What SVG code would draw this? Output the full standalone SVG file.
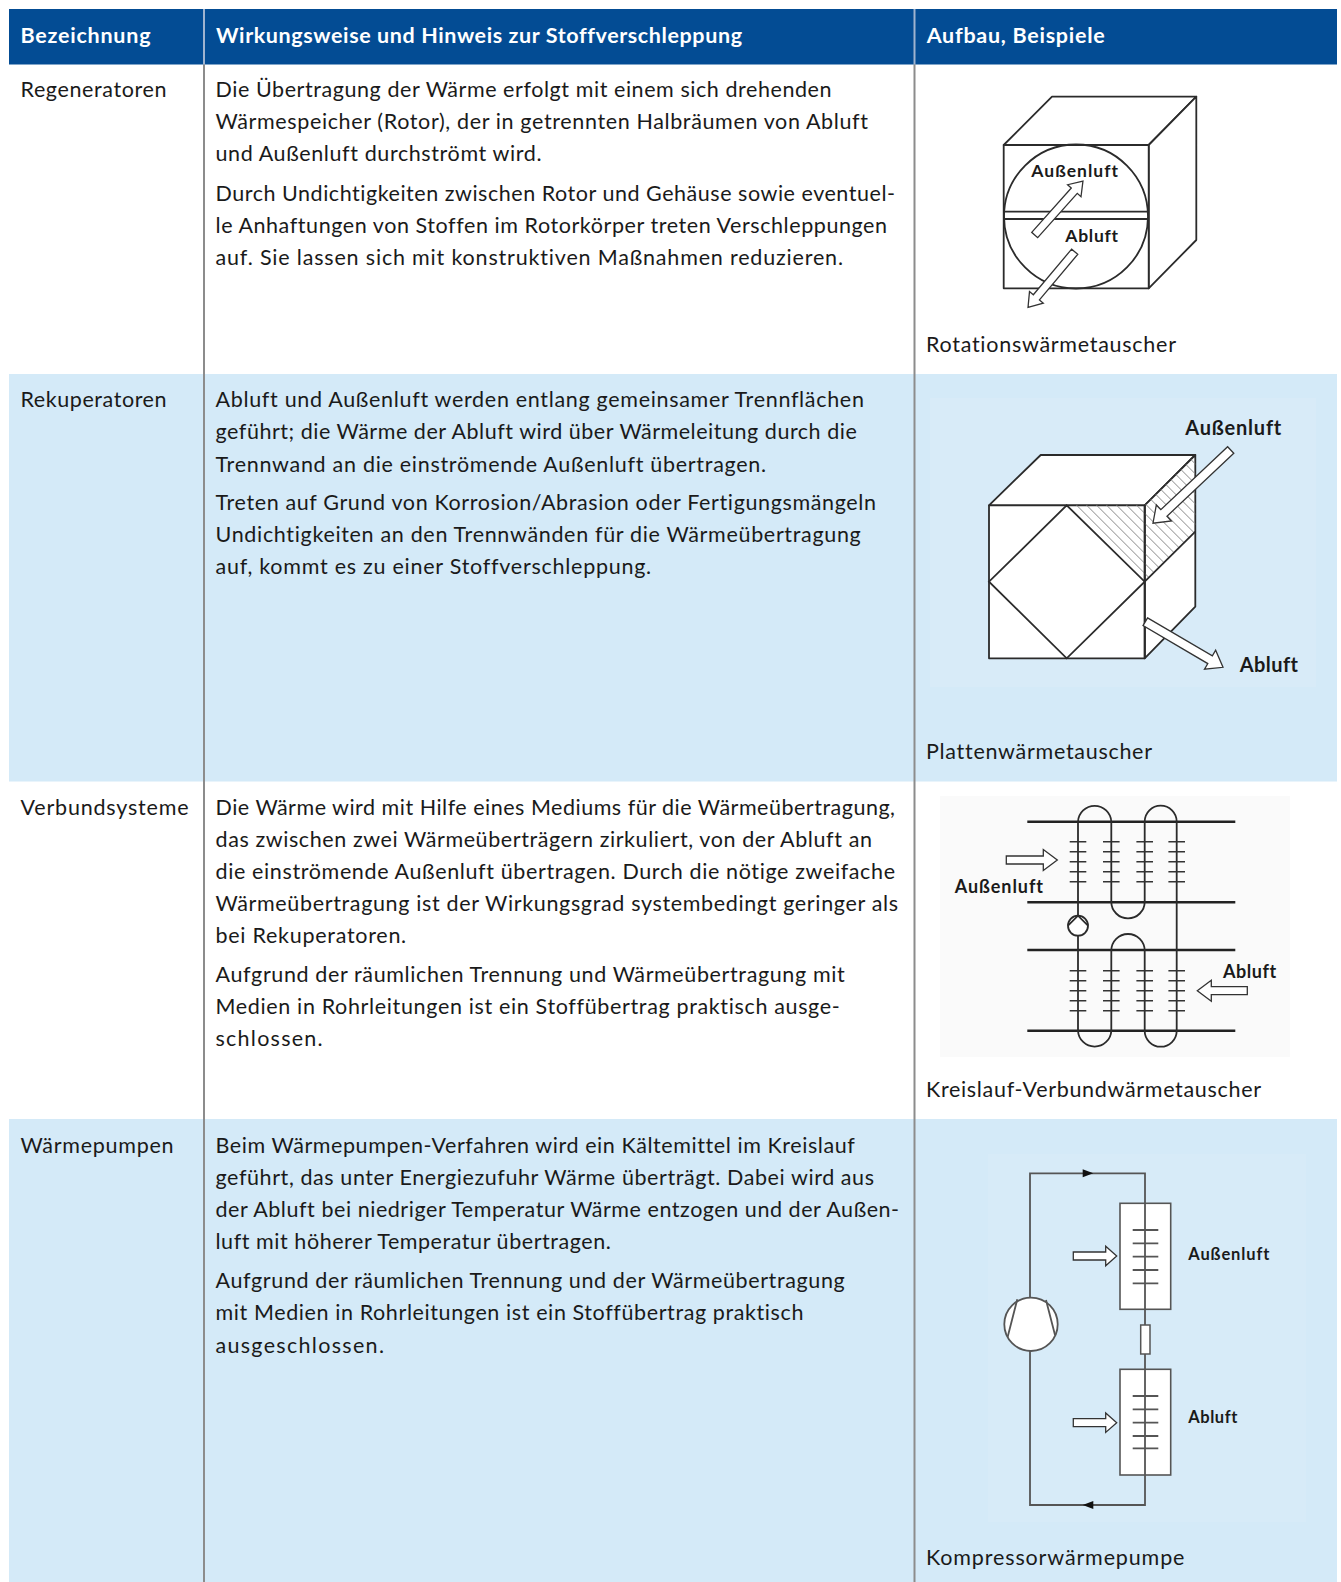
<svg xmlns="http://www.w3.org/2000/svg" width="1341" height="1582" viewBox="0 0 1341 1582">
<defs>
<style>
text{font-variant-ligatures:none;font-feature-settings:"liga" 0,"clig" 0}
.hd{font-family:Lato,"Noto Sans",sans-serif;font-weight:700;font-size:21.5px;fill:#fff}
.tx{font-family:Lato,"Noto Sans",sans-serif;font-size:21.5px;fill:#1a1a1a}
.lb{font-family:Lato,"Noto Sans",sans-serif;font-weight:700;fill:#1a1a1a}
.ln{stroke:#2b2b2b;stroke-width:1.8;fill:none}
.fc{fill:#fff;stroke:#2b2b2b;stroke-width:1.8;stroke-linejoin:round}
.ha{fill:#fff;stroke:#333;stroke-width:1.3}
.fin{stroke:#333;stroke-width:1.5;fill:none}
.thick{stroke:#222;stroke-width:2.6}
.c4{stroke:#555;stroke-width:1.8;fill:none}
.div{stroke:#8c8c8c;stroke-width:2}
.hdiv{stroke:#9fb3cf;stroke-width:2}
</style>
<clipPath id="hatchclip"><polygon points="1066.7,505.3 1144.7,505.3 1195.3,455 1195.3,531.7 1144.7,581.7"/></clipPath>
</defs>

<g id="table">
<rect x="0" y="0" width="1341" height="1582" fill="#fff"/>
<rect x="9" y="9" width="1328" height="55.5" fill="#034c94"/>
<rect x="9" y="374" width="1328" height="407.5" fill="#d4eaf8"/>
<rect x="9" y="1119" width="1328" height="463" fill="#d4eaf8"/>
<line class="hdiv" x1="204" y1="9" x2="204" y2="64.5"/>
<line class="hdiv" x1="914.5" y1="9" x2="914.5" y2="64.5"/>
<line class="div" x1="204" y1="64.5" x2="204" y2="1582"/>
<line class="div" x1="914.5" y1="64.5" x2="914.5" y2="1582"/>
</g>

<g id="header">
<text class="hd" x="20.5" y="43" textLength="130">Bezeichnung</text>
<text class="hd" x="216" y="43" textLength="526">Wirkungsweise und Hinweis zur Stoffverschleppung</text>
<text class="hd" x="926.7" y="43" textLength="178">Aufbau, Beispiele</text>
</g>

<g id="row-regeneratoren">
<text class="tx" x="20.5" y="97" textLength="146">Regeneratoren</text>
<text class="tx" x="215.5" y="97" textLength="616">Die Übertragung der Wärme erfolgt mit einem sich drehenden</text>
<text class="tx" x="215.5" y="129" textLength="652.5">Wärmespeicher (Rotor), der in getrennten Halbräumen von Abluft</text>
<text class="tx" x="215.5" y="161" textLength="326">und Außenluft durchströmt wird.</text>
<text class="tx" x="215.5" y="201" textLength="679.5">Durch Undichtigkeiten zwischen Rotor und Gehäuse sowie eventuel-</text>
<text class="tx" x="215.5" y="233" textLength="671.5">le Anhaftungen von Stoffen im Rotorkörper treten Verschleppungen</text>
<text class="tx" x="215.5" y="265" textLength="627.5">auf. Sie lassen sich mit konstruktiven Maßnahmen reduzieren.</text>
<text class="tx" x="926" y="351.5" textLength="250">Rotationswärmetauscher</text>
</g>

<g id="illu-rotation">
<polygon class="fc" points="1003.7,145 1052,96.7 1196.3,96.7 1148.7,145"/>
<polygon class="fc" points="1148.7,145 1196.3,96.7 1196.3,240 1148.7,288.3"/>
<rect class="fc" x="1003.7" y="145" width="145" height="143.3"/>
<circle class="ln" cx="1076" cy="216.5" r="72"/>
<line class="ln" x1="1003.7" y1="211.7" x2="1148.7" y2="211.7"/>
<line class="ln" x1="1003.7" y1="219" x2="1148.7" y2="219"/>
<polygon class="ha" transform="translate(1034.7,235) rotate(-48.2)" points="0,-4 59.4,-4 59.4,-9 72.4,0 59.4,9 59.4,4 0,4"/>
<polygon class="ha" transform="translate(1074.7,251.7) rotate(130)" points="0,-4 59.6,-4 59.6,-9 72.6,0 59.6,9 59.6,4 0,4"/>
<text class="lb" x="1031.3" y="176.7" font-size="17.5" textLength="86.7">Außenluft</text>
<text class="lb" x="1065.3" y="242.3" font-size="17.5" textLength="52.7">Abluft</text>
</g>

<g id="row-rekuperatoren">
<text class="tx" x="20.5" y="407" textLength="146">Rekuperatoren</text>
<text class="tx" x="215.5" y="407" textLength="648.4">Abluft und Außenluft werden entlang gemeinsamer Trennflächen</text>
<text class="tx" x="215.5" y="439" textLength="641.3">geführt; die Wärme der Abluft wird über Wärmeleitung durch die</text>
<text class="tx" x="215.5" y="471.5" textLength="550.6">Trennwand an die einströmende Außenluft übertragen.</text>
<text class="tx" x="215.5" y="510" textLength="660.5">Treten auf Grund von Korrosion/Abrasion oder Fertigungsmängeln</text>
<text class="tx" x="215.5" y="542" textLength="645.3">Undichtigkeiten an den Trennwänden für die Wärmeübertragung</text>
<text class="tx" x="215.5" y="574" textLength="435.7">auf, kommt es zu einer Stoffverschleppung.</text>
<text class="tx" x="926" y="759" textLength="226">Plattenwärmetauscher</text>
</g>

<g id="illu-platten">
<rect x="930" y="398" width="386" height="289" fill="#d8ebf8"/>
<polygon class="fc" points="989,505.3 1040.7,455 1195.3,455 1144.7,505.3"/>
<polygon class="fc" points="1144.7,505.3 1195.3,455 1195.3,606.7 1144.7,658.3"/>
<rect class="fc" x="989" y="505.3" width="155.7" height="153"/>
<path clip-path="url(#hatchclip)" stroke="#8a8a8a" stroke-width="1" fill="none" d="M1011.4,440 L1181.4,610 M1021.4,440 L1191.4,610 M1031.4,440 L1201.4,610 M1041.4,440 L1211.4,610 M1051.4,440 L1221.4,610 M1061.4,440 L1231.4,610 M1071.4,440 L1241.4,610 M1081.4,440 L1251.4,610 M1091.4,440 L1261.4,610 M1101.4,440 L1271.4,610 M1111.4,440 L1281.4,610 M1121.4,440 L1291.4,610 M1131.4,440 L1301.4,610 M1141.4,440 L1311.4,610 M1151.4,440 L1321.4,610 M1161.4,440 L1331.4,610 M1171.4,440 L1341.4,610 M1181.4,440 L1351.4,610"/>
<polygon class="ln" points="1066.7,505.3 1144.7,581.7 1066.7,658.3 989,581.7"/>
<line class="ln" x1="1144.7" y1="581.7" x2="1195.3" y2="531.7"/>
<line class="ln" x1="1144.7" y1="505.3" x2="1144.7" y2="658.3"/>
<polygon class="ha" transform="translate(1230.7,450) rotate(136.7)" points="0,-4.5 91.8,-4.5 91.8,-11 106.8,0 91.8,11 91.8,4.5 0,4.5"/>
<polygon class="ha" transform="translate(1145.3,621.7) rotate(30.4)" points="0,-4.5 75.1,-4.5 75.1,-11 90.1,0 75.1,11 75.1,4.5 0,4.5"/>
<text class="lb" x="1185.3" y="435" font-size="20" textLength="96">Außenluft</text>
<text class="lb" x="1239.7" y="671.7" font-size="20" textLength="58.3">Abluft</text>
</g>

<g id="row-verbundsysteme">
<text class="tx" x="20.5" y="815" textLength="168">Verbundsysteme</text>
<text class="tx" x="215.5" y="815" textLength="679.5">Die Wärme wird mit Hilfe eines Mediums für die Wärmeübertragung,</text>
<text class="tx" x="215.5" y="847" textLength="656.4">das zwischen zwei Wärmeüberträgern zirkuliert, von der Abluft an</text>
<text class="tx" x="215.5" y="879" textLength="679.5">die einströmende Außenluft übertragen. Durch die nötige zweifache</text>
<text class="tx" x="215.5" y="911" textLength="682.5">Wärmeübertragung ist der Wirkungsgrad systembedingt geringer als</text>
<text class="tx" x="215.5" y="943" textLength="190.7">bei Rekuperatoren.</text>
<text class="tx" x="215.5" y="982" textLength="629.2">Aufgrund der räumlichen Trennung und Wärmeübertragung mit</text>
<text class="tx" x="215.5" y="1014" textLength="624.2">Medien in Rohrleitungen ist ein Stoffübertrag praktisch ausge-</text>
<text class="tx" x="215.5" y="1046" textLength="107.1">schlossen.</text>
<text class="tx" x="926" y="1096.5" textLength="335">Kreislauf-Verbundwärmetauscher</text>
</g>

<g id="illu-kreislauf">
<rect x="940" y="796" width="350" height="261" fill="#fafafa"/>
<line class="thick" x1="1027.3" y1="821.7" x2="1235.3" y2="821.7"/>
<line class="thick" x1="1027.3" y1="902.3" x2="1235.3" y2="902.3"/>
<line class="thick" x1="1027.3" y1="950" x2="1235.3" y2="950"/>
<line class="thick" x1="1027.3" y1="1030.7" x2="1235.3" y2="1030.7"/>
<path class="ln" d="M1078,915.7 V821.7 A16.67,16.67 0 0 1 1111.3,821.7 V901.7 A16.67,16.67 0 0 0 1144.7,901.7 V821.7 A16,16 0 0 1 1176.7,821.7 V1030.7 A16,16 0 0 1 1144.7,1030.7 V950.7 A16.67,16.67 0 0 0 1111.3,950.7 V1030.7 A16.67,16.67 0 0 1 1078,1030.7 V935.7"/>
<circle class="fc" cx="1078" cy="925.7" r="10"/>
<path class="ln" d="M1068,925.7 L1078,915.7 L1088,925.7"/>
<path class="fin" d="M1069.7,841.7h16.6M1069.7,851.7h16.6M1069.7,861.7h16.6M1069.7,871.7h16.6M1069.7,881.7h16.6
M1103,841.7h16.6M1103,851.7h16.6M1103,861.7h16.6M1103,871.7h16.6M1103,881.7h16.6
M1136.4,841.7h16.6M1136.4,851.7h16.6M1136.4,861.7h16.6M1136.4,871.7h16.6M1136.4,881.7h16.6
M1168.4,841.7h16.6M1168.4,851.7h16.6M1168.4,861.7h16.6M1168.4,871.7h16.6M1168.4,881.7h16.6
M1069.7,970.7h16.6M1069.7,980.7h16.6M1069.7,990.7h16.6M1069.7,1000.7h16.6M1069.7,1010.7h16.6
M1103,970.7h16.6M1103,980.7h16.6M1103,990.7h16.6M1103,1000.7h16.6M1103,1010.7h16.6
M1136.4,970.7h16.6M1136.4,980.7h16.6M1136.4,990.7h16.6M1136.4,1000.7h16.6M1136.4,1010.7h16.6
M1168.4,970.7h16.6M1168.4,980.7h16.6M1168.4,990.7h16.6M1168.4,1000.7h16.6M1168.4,1010.7h16.6"/>
<polygon class="ha" transform="translate(1006.3,860)" points="0,-4 37,-4 37,-10.5 51,0 37,10.5 37,4 0,4"/>
<polygon class="ha" transform="translate(1247.3,990.7) rotate(180)" points="0,-4 36,-4 36,-10.5 50,0 36,10.5 36,4 0,4"/>
<text class="lb" x="954.7" y="893.3" font-size="18" textLength="88.3">Außenluft</text>
<text class="lb" x="1223" y="978.3" font-size="18" textLength="53.3">Abluft</text>
</g>

<g id="row-waermepumpen">
<text class="tx" x="20.5" y="1153" textLength="153">Wärmepumpen</text>
<text class="tx" x="215.5" y="1153" textLength="639.3">Beim Wärmepumpen-Verfahren wird ein Kältemittel im Kreislauf</text>
<text class="tx" x="215.5" y="1185" textLength="658.5">geführt, das unter Energiezufuhr Wärme überträgt. Dabei wird aus</text>
<text class="tx" x="215.5" y="1217" textLength="683.6">der Abluft bei niedriger Temperatur Wärme entzogen und der Außen-</text>
<text class="tx" x="215.5" y="1249" textLength="395.3">luft mit höherer Temperatur übertragen.</text>
<text class="tx" x="215.5" y="1288" textLength="629.2">Aufgrund der räumlichen Trennung und der Wärmeübertragung</text>
<text class="tx" x="215.5" y="1320" textLength="587.9">mit Medien in Rohrleitungen ist ein Stoffübertrag praktisch</text>
<text class="tx" x="215.5" y="1352.5" textLength="168.5">ausgeschlossen.</text>
<text class="tx" x="926" y="1565" textLength="258.4">Kompressorwärmepumpe</text>
</g>

<g id="illu-kompressor">
<rect x="988" y="1154" width="318" height="368" fill="#d7ebf8"/>
<rect x="1120" y="1203.3" width="50.7" height="106" fill="#fff" stroke="#555" stroke-width="1.6"/>
<rect x="1120" y="1369.3" width="50.7" height="105.7" fill="#fff" stroke="#555" stroke-width="1.6"/>
<path class="c4" d="M1030,1297.6 V1173.3 H1145 V1505 H1030 V1351"/>
<circle cx="1031" cy="1324.3" r="26.7" fill="#fff" stroke="#555" stroke-width="1.8"/>
<path class="c4" d="M1017.3,1299.3 L1007.7,1336.7 M1046,1300 L1055,1335"/>
<rect x="1140.7" y="1325" width="9.3" height="29" fill="#fff" stroke="#555" stroke-width="1.5"/>
<polygon points="1093.3,1173.3 1082.7,1169.3 1082.7,1177.3" fill="#111"/>
<polygon points="1082.7,1505 1093.3,1501 1093.3,1509" fill="#111"/>
<path class="c4" d="M1132.7,1230h25.6M1132.7,1243.3h25.6M1132.7,1256.7h25.6M1132.7,1270h25.6M1132.7,1283.3h25.6M1132.7,1396h25.6M1132.7,1409.3h25.6M1132.7,1422.7h25.6M1132.7,1436h25.6M1132.7,1448.3h25.6"/>
<polygon class="ha" transform="translate(1073.3,1256)" points="0,-4 32.4,-4 32.4,-9.7 43.4,0 32.4,9.7 32.4,4 0,4"/>
<polygon class="ha" transform="translate(1073.3,1422.7)" points="0,-4 32.4,-4 32.4,-9.7 43.4,0 32.4,9.7 32.4,4 0,4"/>
<text class="lb" x="1188.3" y="1260" font-size="16.5" textLength="81">Außenluft</text>
<text class="lb" x="1188.3" y="1423.3" font-size="16.5" textLength="49">Abluft</text>
</g>
</svg>
